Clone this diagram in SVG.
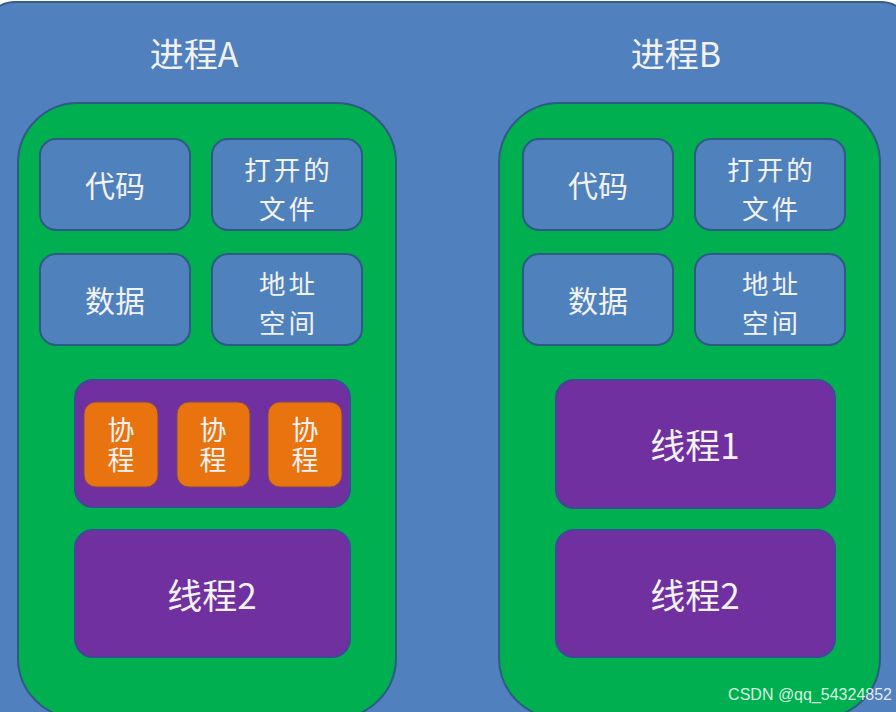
<svg xmlns="http://www.w3.org/2000/svg" width="896" height="712" viewBox="0 0 896 712">
<style>
.t{font-family:"Noto Sans CJK SC","Noto Sans",sans-serif;fill:#F2F2F2;text-anchor:middle;dominant-baseline:central}
.d{font-size:26.5px;letter-spacing:3px}
.v{font-family:"Noto Sans CJK SC","Noto Sans",sans-serif;fill:#F2F2F2;text-anchor:middle;writing-mode:vertical-rl;font-size:27px;letter-spacing:3px}
.green{fill:#00B050;stroke:#2E5B84;stroke-width:2}
.blue{fill:#4F81BD;stroke:#2F5A86;stroke-width:2}
.purple{fill:#7030A0;stroke:#43479A;stroke-width:2}
.orange{fill:#E8730F;stroke:#7A4A5A;stroke-width:1}
</style>
<rect x="0" y="0" width="896" height="712" fill="#FFFFFF"/>
<rect x="-15" y="2" width="926" height="760" rx="30" fill="#5080BD" stroke="#385D8A" stroke-width="2"/>

<g id="procA">
<text class="t" x="194" y="52" font-size="34">进程A</text>
<rect class="green" x="18" y="103" width="378" height="615" rx="60"/>
</g>
<g id="procB">
<text class="t" x="676" y="52" font-size="34">进程B</text>
<rect class="green" x="499" y="103" width="381" height="615" rx="60"/>
</g>

<g id="A-code"><rect class="blue" x="40" y="139" width="150" height="91" rx="16"/><text class="t" x="115" y="184" font-size="30">代码</text></g>
<g id="A-files"><rect class="blue" x="212" y="139" width="150" height="91" rx="16"/><text class="t d" x="288.5" y="168">打开的</text><text class="t d" x="288.5" y="207">文件</text></g>
<g id="A-data"><rect class="blue" x="40" y="254" width="150" height="91" rx="16"/><text class="t" x="115" y="299" font-size="30">数据</text></g>
<g id="A-addr"><rect class="blue" x="212" y="254" width="150" height="91" rx="16"/><text class="t d" x="288.5" y="282">地址</text><text class="t d" x="288.5" y="321">空间</text></g>

<g id="A-thread1"><rect class="purple" x="75" y="380" width="275" height="127" rx="18"/></g>
<g id="A-co1"><rect class="orange" x="84" y="402" width="74" height="85" rx="12"/><text class="v" x="121" y="446">协程</text></g>
<g id="A-co2"><rect class="orange" x="177" y="402" width="73" height="85" rx="12"/><text class="v" x="213" y="446">协程</text></g>
<g id="A-co3"><rect class="orange" x="268" y="402" width="74" height="85" rx="12"/><text class="v" x="305" y="446">协程</text></g>
<g id="A-thread2"><rect class="purple" x="75" y="530" width="275" height="127" rx="18"/><text class="t" x="212" y="593" font-size="35">线程2</text></g>

<g id="B-code"><rect class="blue" x="523" y="139" width="150" height="91" rx="16"/><text class="t" x="598" y="184" font-size="30">代码</text></g>
<g id="B-files"><rect class="blue" x="695" y="139" width="150" height="91" rx="16"/><text class="t d" x="771.5" y="168">打开的</text><text class="t d" x="771.5" y="207">文件</text></g>
<g id="B-data"><rect class="blue" x="523" y="254" width="150" height="91" rx="16"/><text class="t" x="598" y="299" font-size="30">数据</text></g>
<g id="B-addr"><rect class="blue" x="695" y="254" width="150" height="91" rx="16"/><text class="t d" x="771.5" y="282">地址</text><text class="t d" x="771.5" y="321">空间</text></g>
<g id="B-thread1"><rect class="purple" x="556" y="380" width="279" height="128" rx="18"/><text class="t" x="695" y="443" font-size="35">线程1</text></g>
<g id="B-thread2"><rect class="purple" x="556" y="530" width="279" height="127" rx="18"/><text class="t" x="695" y="593" font-size="35">线程2</text></g>

<g id="connectors"></g>
<text x="892" y="700" font-family="Liberation Sans, Arial, sans-serif" font-size="16" fill="#FFFFFF" fill-opacity="0.85" text-anchor="end">CSDN @qq_54324852</text>
</svg>
